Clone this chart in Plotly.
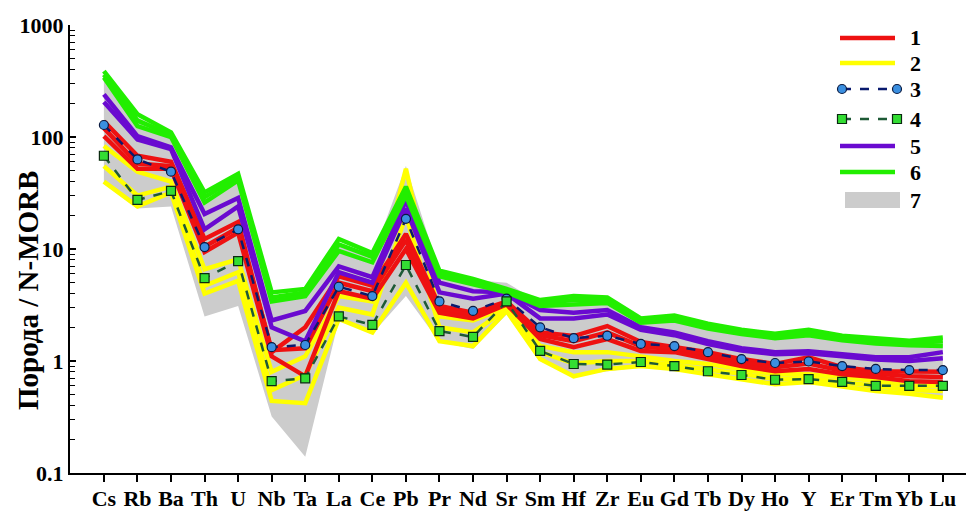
import plotly.graph_objects as go

elements = ["Cs", "Rb", "Ba", "Th", "U", "Nb", "Ta", "La", "Ce", "Pb", "Pr", "Nd", "Sr",
            "Sm", "Hf", "Zr", "Eu", "Gd", "Tb", "Dy", "Ho", "Y", "Er", "Tm", "Yb", "Lu"]
y_tick_vals = [0.1, 1, 10, 100, 1000]
y_tick_text = ["0.1", "1", "10", "100", "1000"]
y_minor_vals = [m * d for d in (0.1, 1, 10, 100) for m in range(2, 10)]
legend_labels = ["1", "2", "3", "4", "5", "6", "7"]

# Group 1 (red)
red_upper = [138, 68, 60, 12.3, 17.4, 1.2, 2.0, 5.7, 4.7, 13.6, 3.1, 2.7, 3.4, 1.8, 1.67, 2.05,
             1.48, 1.33, 1.2, 1.04, 0.94, 1.08, 0.88, 0.81, 0.80, 0.80]
red_mid = [120, 58, 55, 10.5, 15.5, 1.25, 1.3, 5.0, 4.2, 12, 2.9, 2.55, 3.3, 1.7, 1.5, 1.8,
           1.35, 1.27, 1.12, 0.97, 0.88, 0.95, 0.82, 0.77, 0.73, 0.72]
red_lower = [102, 52, 52, 9.4, 14, 1.1, 0.73, 4.2, 3.6, 10, 2.7, 2.4, 3.2, 1.57, 1.33, 1.57,
             1.23, 1.2, 1.04, 0.9, 0.81, 0.85, 0.76, 0.72, 0.66, 0.65]
# Group 2 (yellow)
yellow_upper = [83, 49, 40, 6.6, 8.1, 0.8, 1.1, 3.8, 3.4, 52, 2.5, 2.3, 3.0, 1.36, 1.2, 1.2,
                1.1, 1.0, 0.94, 0.85, 0.76, 0.76, 0.72, 0.66, 0.60, 0.60]
yellow_mid = [55, 30, 36, 4.7, 6.2, 0.55, 0.75, 3.0, 2.6, 20, 2.0, 1.8, 2.9, 1.2, 0.95, 1.0,
              1.0, 0.92, 0.85, 0.77, 0.69, 0.70, 0.65, 0.60, 0.55, 0.54]
yellow_lower = [40, 24, 32, 4.0, 5.2, 0.44, 0.42, 2.37, 1.8, 5.0, 1.5, 1.36, 2.8, 1.04, 0.73, 0.85,
                0.9, 0.85, 0.76, 0.69, 0.62, 0.65, 0.59, 0.54, 0.51, 0.47]
# Group 3 (blue circles)
series3 = [128, 63, 49, 10.4, 15, 1.33, 1.39, 4.6, 3.8, 18.6, 3.4, 2.8, 3.6, 2.0, 1.6, 1.68,
           1.42, 1.36, 1.2, 1.04, 0.96, 0.99, 0.9, 0.85, 0.83, 0.83]
# Group 4 (green squares)
series4 = [68, 27.4, 33, 5.5, 7.8, 0.66, 0.70, 2.5, 2.1, 7.2, 1.85, 1.64, 3.4, 1.23, 0.94, 0.93,
           0.98, 0.90, 0.81, 0.75, 0.68, 0.69, 0.65, 0.60, 0.60, 0.60]
# Group 5 (purple)
purple_upper = [240, 102, 81, 20.5, 28.6, 2.3, 2.8, 7.0, 5.6, 27, 5.0, 4.2, 4.1, 2.85, 2.7, 2.85,
                2.0, 1.8, 1.5, 1.3, 1.2, 1.22, 1.15, 1.08, 1.08, 1.2]
purple_lower = [205, 95, 78, 15, 24, 2.0, 1.5, 6.2, 5.0, 23, 4.1, 3.6, 4.0, 2.4, 2.4, 2.6,
                1.9, 1.7, 1.42, 1.24, 1.15, 1.17, 1.1, 1.03, 1.0, 1.06]
# Group 6 (green)
green_upper = [388, 160, 110, 32, 47, 4.1, 4.4, 12.3, 9.2, 36, 6.4, 5.4, 4.4, 3.5, 3.8, 3.7,
               2.4, 2.55, 2.15, 1.9, 1.75, 1.9, 1.68, 1.58, 1.52, 1.62]
green_mid = [360, 140, 105, 29, 44, 3.7, 4.1, 11, 8.5, 33, 6.0, 5.1, 4.2, 3.3, 3.5, 3.5,
             2.3, 2.4, 2.05, 1.82, 1.68, 1.8, 1.6, 1.5, 1.45, 1.5]
green_lower = [340, 125, 100, 26, 41, 3.4, 3.8, 9.6, 7.6, 30, 5.7, 4.8, 4.1, 3.1, 3.2, 3.3,
               2.2, 2.3, 1.95, 1.74, 1.6, 1.7, 1.53, 1.43, 1.38, 1.36]
# Group 7 (gray field)
field_upper = [330, 150, 105, 30, 45, 3.6, 4.2, 11, 8.5, 55, 6.3, 5.3, 5.0, 3.3, 3.5, 3.5,
               2.3, 2.4, 2.0, 1.8, 1.65, 1.75, 1.6, 1.5, 1.45, 1.5]
field_lower = [38, 23, 24, 2.5, 3.1, 0.32, 0.14, 2.3, 1.75, 3.8, 1.48, 1.28, 2.6, 1.0, 0.73, 0.81,
               0.88, 0.83, 0.75, 0.68, 0.62, 0.64, 0.58, 0.54, 0.51, 0.47]

RED, YELLOW, PURPLE, GREEN, GRAY = "#ee1111", "#ffff00", "#6a0ad0", "#22ee00", "#cccccc"
S3_LINE, S3_FILL, S4_LINE, S4_FILL = "#0a1a6e", "#3b8fe0", "#1e5a36", "#33dd33"

W, H = 966, 514
ML, MR, MT, MB = 70, 0, 25, 41
PW, PH = W - ML - MR, H - MT - MB

xs = list(range(len(elements)))
fig = go.Figure()

fig.add_trace(go.Scatter(
    x=xs + xs[::-1], y=field_upper + field_lower[::-1], mode="lines", fill="toself",
    fillcolor=GRAY, line=dict(width=0, color=GRAY), name="7", hoverinfo="skip", showlegend=False))

def band(lines, color, name, width=4.5):
    for ys in lines:
        fig.add_trace(go.Scatter(x=xs, y=ys, mode="lines", line=dict(color=color, width=width),
                                 name=name, showlegend=False))

band([yellow_upper, yellow_mid, yellow_lower], YELLOW, "2")
band([red_upper, red_mid, red_lower], RED, "1")
band([purple_upper, purple_lower], PURPLE, "5")
band([green_upper, green_mid, green_lower], GREEN, "6")

fig.add_trace(go.Scatter(
    x=xs, y=series3, mode="lines+markers", name="3", showlegend=False,
    line=dict(color=S3_LINE, width=2.5, dash="dash"),
    marker=dict(symbol="circle", size=9, color=S3_FILL, line=dict(color="#0a1a40", width=1.2))))
fig.add_trace(go.Scatter(
    x=xs, y=series4, mode="lines+markers", name="4", showlegend=False,
    line=dict(color=S4_LINE, width=2.5, dash="dash"),
    marker=dict(symbol="square", size=9, color=S4_FILL, line=dict(color="#0a2a10", width=1.2))))

# ---- manual legend (layout in pixel positions converted to paper coords) ----
def px(x):
    return (x - ML) / PW

def py(y):
    return (MT + PH - y) / PH

shapes = []
annotations = []
leg_x0, leg_x1, txt_x = 840, 895, 908
leg_y = [38, 63, 89, 119, 146, 172, 200]
line_styles = [(RED, None), (YELLOW, None), (S3_LINE, "dash"), (S4_LINE, "dash"), (PURPLE, None), (GREEN, None)]
for i, (col, dash) in enumerate(line_styles):
    y = leg_y[i]
    if dash is None:
        shapes.append(dict(type="line", xref="paper", yref="paper", x0=px(leg_x0), x1=px(leg_x1),
                           y0=py(y), y1=py(y), line=dict(color=col, width=4.5)))
    else:
        shapes.append(dict(type="line", xref="paper", yref="paper", x0=px(leg_x0 + 2), x1=px(leg_x1),
                           y0=py(y), y1=py(y), line=dict(color=col, width=2.5, dash="dash")))
        for cx in (leg_x0 + 2, leg_x1 + 2):
            if i == 2:
                shapes.append(dict(type="circle", xref="paper", yref="paper",
                                   x0=px(cx - 4.5), x1=px(cx + 4.5), y0=py(y + 4.5), y1=py(y - 4.5),
                                   fillcolor=S3_FILL, line=dict(color="#0a1a40", width=1.2)))
            else:
                shapes.append(dict(type="rect", xref="paper", yref="paper",
                                   x0=px(cx - 4.5), x1=px(cx + 4.5), y0=py(y + 4.5), y1=py(y - 4.5),
                                   fillcolor=S4_FILL, line=dict(color="#0a2a10", width=1.2)))
shapes.append(dict(type="rect", xref="paper", yref="paper", x0=px(845), x1=px(900),
                   y0=py(208), y1=py(192), fillcolor=GRAY, line=dict(width=0)))
for lab, y in zip(legend_labels, leg_y):
    annotations.append(dict(text="<b>%s</b>" % lab, xref="paper", yref="paper", x=px(txt_x), y=py(y),
                            xanchor="left", yanchor="middle", showarrow=False,
                            font=dict(family="Liberation Serif", size=22, color="black")))

annotations.append(dict(text="<b>Порода / N-MORB</b>", xref="paper", yref="paper",
                        x=px(28), y=py(291), xanchor="center", yanchor="middle", textangle=-90,
                        showarrow=False, font=dict(family="Liberation Serif", size=29, color="black")))

font_family = "Liberation Serif"
fig.update_layout(
    width=W, height=H,
    margin=dict(l=ML, r=MR, t=MT, b=MB, autoexpand=False),
    paper_bgcolor="white", plot_bgcolor="white",
    font=dict(family=font_family, color="black", size=22),
    showlegend=False,
    shapes=shapes, annotations=annotations,
    xaxis=dict(range=[-1.01, 25.69], tickmode="array", tickvals=xs, ticktext=elements,
               ticks="outside", ticklen=7, tickwidth=2, tickcolor="black", automargin=False,
               ticklabelstandoff=-3,
               showline=True, linewidth=2.2, linecolor="black", showgrid=False, zeroline=False,
               tickfont=dict(family=font_family, size=22, color="black", weight="bold")),
    yaxis=dict(type="log", range=[-1, 3], tickmode="array", tickvals=y_tick_vals, ticktext=y_tick_text,
               ticks="inside", ticklen=6, tickwidth=2, tickcolor="black", automargin=False,
               minor=dict(tickmode="array", tickvals=y_minor_vals, ticks="inside", ticklen=5,
                          tickwidth=1.3, tickcolor="black", showgrid=False),
               showline=True, linewidth=2, linecolor="black", showgrid=False, zeroline=False,
               tickfont=dict(family=font_family, size=22, color="black", weight="bold")),
)
fig.write_html("out.html", post_script="document.body.style.margin='0px';",
               config={"displayModeBar": False})
